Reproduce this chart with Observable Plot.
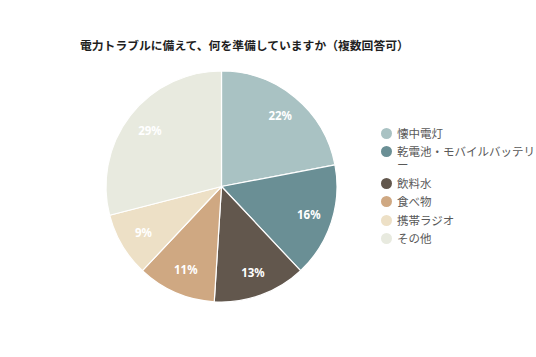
<!DOCTYPE html>
<html>
<head>
<meta charset="utf-8">
<script src="https://cdn.jsdelivr.net/npm/d3@7"></script>
<script src="https://cdn.jsdelivr.net/npm/@observablehq/plot@0.6"></script>
<style>
  html, body { margin: 0; padding: 0; background: #fff; }
  #wrap { position: relative; width: 536px; height: 357px; overflow: hidden; font-family: "Noto Sans CJK JP", "Noto Sans", sans-serif; }
  #title { position: absolute; left: 80px; top: 36px; font-size: 11.8px; font-weight: bold; color: #1f1f1f; white-space: nowrap; }
  #chart { position: absolute; left: 0; top: 0; }
  #legend { position: absolute; left: 381px; top: 126.5px; font-size: 11.5px; color: #595959; }
  .item { display: flex; align-items: flex-start; line-height: 13px; margin-bottom: 5.6px; }
  .sw { width: 11px; height: 11px; border-radius: 50%; margin-top: 1px; margin-right: 5px; flex: none; }
  .lbl { width: 142px; }
</style>
</head>
<body>
<div id="wrap">
  <div id="chart"></div>
  <div id="title">電力トラブルに備えて、何を準備していますか（複数回答可）</div>
  <div id="legend"></div>
</div>
<script>
const names = ["懐中電灯", "乾電池・モバイルバッテリー", "飲料水", "食べ物", "携帯ラジオ", "その他"];
const values = [22, 16, 13, 11, 9, 29];
const colors = ["#a9c2c3", "#6a8f95", "#62574d", "#cfa882", "#ede0c6", "#e8eadf"];
const labelColors = ["#ffffff", "#ffffff", "#ffffff", "#ffffff", "#ffffff", "#ffffff"];

const arcs = d3.pie().sort(null).value(d => d)(values);
const rows = names.map((name, i) => ({
  name,
  value: values[i],
  a0: arcs[i].startAngle,
  a1: arcs[i].endAngle,
  mid: (arcs[i].startAngle + arcs[i].endAngle) / 2,
  label: values[i] + "%"
}));

const cx = 221.5, cy = 186.5, R = 115.5;

const chart = Plot.plot({
  width: 536,
  height: 357,
  margin: 0,
  x: {domain: [-1, 1], range: [cx - R, cx + R], axis: null},
  y: {domain: [-1, 1], range: [cy + R, cy - R], axis: null},
  color: {domain: names, range: colors},
  marks: [
    Plot.dot(rows, {
      x: () => 0, y: () => 0, fill: "name",
      render: (index, scales, vals) => {
        const x0 = scales.x(0), y0 = scales.y(0);
        const r = Math.abs(scales.x(1) - scales.x(0));
        const arc = d3.arc().innerRadius(0).outerRadius(r);
        const g = d3.create("svg:g").attr("transform", `translate(${x0},${y0})`);
        g.selectAll("path").data(Array.from(index)).join("path")
          .attr("d", i => arc({startAngle: rows[i].a0, endAngle: rows[i].a1}))
          .attr("fill", i => vals.fill[i])
          .attr("stroke", "#ffffff")
          .attr("stroke-width", 1.2)
          .attr("stroke-linejoin", "round");
        return g.node();
      }
    }),
    Plot.text(rows, {
      x: d => Math.sin(d.mid) * 0.79,
      y: d => Math.cos(d.mid) * 0.79,
      text: "label",
      fill: (d, i) => labelColors[i],
      fontSize: 11.5,
      fontWeight: "bold",
      fontFamily: "Noto Sans, sans-serif"
    })
  ]
});
document.getElementById("chart").appendChild(chart);

const legend = d3.select("#legend");
names.forEach((n, i) => {
  const it = legend.append("div").attr("class", "item");
  it.append("div").attr("class", "sw").style("background", colors[i]);
  it.append("div").attr("class", "lbl").text(n);
});
</script>
</body>
</html>
